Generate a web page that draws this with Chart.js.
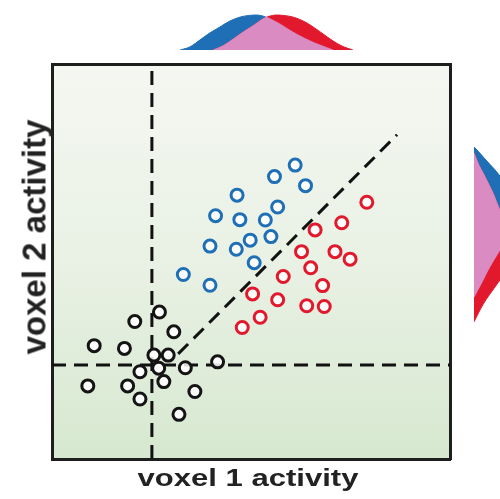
<!DOCTYPE html>
<html>
<head>
<meta charset="utf-8">
<script src="https://cdn.jsdelivr.net/npm/chart.js@4/dist/chart.umd.min.js"></script>
<style>
  html, body { margin: 0; padding: 0; background: #fff; }
  #wrap { position: relative; width: 500px; height: 499px; overflow: hidden; background: #fff; }
  canvas { position: absolute; }
  .title { position: absolute; font-family: "Liberation Sans", Arial, sans-serif; font-weight: bold; color: #222; white-space: nowrap; }
  #xTitle { left: 248px; top: 467px; font-size: 23px; line-height: 23px; transform: translateX(-50%) scaleX(1.35); }
  #yTitle { left: 33.5px; top: 237px; font-size: 33px; line-height: 33px; transform: translate(-50%, -50%) rotate(-90deg); }
</style>
</head>
<body>
<div id="wrap">
  <canvas id="main" width="500" height="499" style="left:0;top:0;width:500px;height:499px"></canvas>
  <canvas id="top" width="398" height="50" style="left:52px;top:0;width:398px;height:50px"></canvas>
  <canvas id="side" width="50" height="395" style="left:474px;top:64px;width:50px;height:395px"></canvas>
  <div class="title" id="xTitle">voxel 1 activity</div>
  <div class="title" id="yTitle">voxel 2 activity</div>
</div>
<script>
// scatter points (voxel 1 / voxel 2 activity, 0-100)
const blackX = [27.0, 20.8, 30.6, 10.6, 18.2, 25.6, 29.2, 22.1, 26.8, 33.5, 41.6, 9.0, 19.0, 28.1, 22.1, 35.9, 31.9];
const blackY = [37.2, 34.8, 32.2, 28.7, 28.0, 26.3, 26.3, 22.1, 23.0, 23.1, 24.6, 18.5, 18.5, 19.6, 15.2, 17.1, 11.3];
const blueX = [61.1, 55.9, 63.7, 46.5, 56.7, 41.1, 47.2, 53.6, 49.8, 55.0, 39.7, 46.3, 50.8, 33.0, 39.7];
const blueY = [74.4, 71.5, 69.2, 66.8, 63.8, 61.6, 60.6, 60.5, 55.4, 56.3, 53.9, 53.1, 49.7, 46.7, 44.0];
const redX = [79.1, 72.8, 66.1, 62.7, 71.1, 74.9, 65.0, 58.1, 68.0, 50.4, 56.7, 64.0, 68.4, 52.3, 47.8];
const redY = [65.0, 59.8, 58.0, 52.5, 52.5, 50.6, 48.4, 46.2, 43.9, 41.8, 40.3, 38.8, 38.6, 35.9, 33.3];

// dashed thresholds and decision boundary
const thresholdX = 25.1;
const thresholdY = 23.8;
const boundaryX = [31.7, 86.7];
const boundaryY = [26.6, 82.1];

// marginal distribution along voxel 1 (top)
const topBlueX = [32.2, 34.7, 37.2, 39.7, 42.2, 44.7, 47.2, 49.7, 52.3, 54.8, 57.3, 59.8, 62.3, 64.8, 67.3, 70.6];
const topBlueD = [0, 0.09, 0.29, 0.49, 0.66, 0.83, 0.94, 0.99, 0.99, 0.89, 0.74, 0.56, 0.40, 0.26, 0.14, 0];
const topRedX = [40.5, 43.0, 45.5, 48.0, 50.5, 53.0, 55.5, 58.0, 60.6, 63.1, 65.6, 68.1, 70.6, 73.1, 75.6];
const topRedD = [0, 0.12, 0.31, 0.51, 0.69, 0.89, 0.99, 0.99, 0.94, 0.83, 0.66, 0.46, 0.26, 0.10, 0];
const topPinkX = [40.5, 43.0, 45.5, 48.0, 50.5, 53.0, 54.0, 54.8, 57.3, 59.8, 62.3, 64.8, 67.3, 70.6];
const topPinkD = [0, 0.12, 0.31, 0.51, 0.69, 0.89, 0.93, 0.89, 0.74, 0.56, 0.40, 0.26, 0.14, 0];

// marginal distribution along voxel 2 (right)
const sideBlueY = [79.0, 77.7, 75.7, 73.2, 70.6, 68.1, 65.6, 63.0, 60.5, 58.0, 55.4, 52.9, 50.4, 47.8, 45.3, 42.8, 41.0];
const sideBlueD = [0, 0.14, 0.34, 0.60, 0.83, 1.03, 1.17, 1.23, 1.20, 1.06, 0.91, 0.74, 0.57, 0.40, 0.26, 0.11, 0];
const sideRedY = [77.5, 74.4, 71.9, 69.4, 66.8, 63.0, 60.5, 58.0, 55.4, 52.9, 50.4, 47.8, 45.3, 42.8, 40.3, 37.7, 34.7];
const sideRedD = [0, 0.14, 0.29, 0.43, 0.57, 0.74, 0.89, 1.03, 1.11, 1.14, 1.09, 0.94, 0.74, 0.54, 0.34, 0.17, 0];
const sidePinkY = [77.5, 74.4, 71.9, 69.4, 66.8, 63.0, 60.5, 57.7, 55.4, 52.9, 50.4, 47.8, 45.3, 42.8, 41.0];
const sidePinkD = [0, 0.14, 0.29, 0.43, 0.57, 0.74, 0.89, 1.04, 0.91, 0.74, 0.57, 0.40, 0.26, 0.11, 0];

const BLUE = '#1f6fb6';
const RED = '#e2182c';
const PINK = '#d98bc2';

let xy = (xs, ys) => xs.map((x, i) => ({ x: x, y: ys[i] }));

let bgPlugin = {
	id: 'bg',
	beforeDraw: (chart) => {
		let a = chart.chartArea;
		let ctx = chart.ctx;
		let g = ctx.createLinearGradient(0, a.top, 0, a.bottom);
		g.addColorStop(0, '#f5f7f2');
		g.addColorStop(0.5, '#e9f1e4');
		g.addColorStop(1, '#d6e8d0');
		ctx.save();
		ctx.fillStyle = g;
		ctx.fillRect(a.left, a.top, a.right - a.left, a.bottom - a.top);
		ctx.restore();
	}
};

let boxAxis = (pos) => ({
	type: 'linear',
	position: pos,
	min: 0,
	max: 100,
	ticks: { display: false },
	grid: { drawOnChartArea: false, drawTicks: false },
	border: { color: '#1e1e1e', width: 3 }
});

let circles = (xs, ys, color) => ({
	data: xy(xs, ys),
	pointRadius: 6,
	pointBorderWidth: 3,
	pointBorderColor: color,
	pointBackgroundColor: 'rgba(255,255,255,0.85)',
	showLine: false,
	order: 1
});

let dashed = (data) => ({
	data: data,
	showLine: true,
	borderColor: '#111',
	borderWidth: 3,
	borderDash: [14, 8],
	pointRadius: 0,
	order: 5
});

new Chart(document.getElementById('main'), {
	type: 'scatter',
	data: {
		datasets: [
			circles(blackX, blackY, '#141414'),
			circles(blueX, blueY, BLUE),
			circles(redX, redY, RED),
			dashed([{ x: thresholdX, y: 0 }, { x: thresholdX, y: 100 }]),
			dashed([{ x: 0, y: thresholdY }, { x: 100, y: thresholdY }]),
			dashed(xy(boundaryX, boundaryY))
		]
	},
	options: {
		responsive: false,
		animation: false,
		devicePixelRatio: 1,
		events: [],
		layout: { padding: { left: 52, top: 64, right: 50, bottom: 40 } },
		plugins: { legend: { display: false }, tooltip: { enabled: false } },
		scales: {
			x: boxAxis('bottom'),
			y: boxAxis('left'),
			x2: boxAxis('top'),
			y2: boxAxis('right')
		}
	},
	plugins: [bgPlugin]
});

let area = (data, color, order) => ({
	data: data,
	borderColor: color,
	borderWidth: 1,
	backgroundColor: color,
	fill: 'origin',
	tension: 0.35,
	pointRadius: 0,
	order: order
});

let hidden = (min, max) => ({ type: 'linear', display: false, min: min, max: max });

new Chart(document.getElementById('top'), {
	type: 'line',
	data: {
		datasets: [
			area(xy(topBlueX, topBlueD), BLUE, 3),
			area(xy(topRedX, topRedD), RED, 2),
			area(xy(topPinkX, topPinkD), PINK, 1)
		]
	},
	options: {
		responsive: false,
		animation: false,
		devicePixelRatio: 1,
		events: [],
		plugins: { legend: { display: false }, tooltip: { enabled: false } },
		scales: { x: hidden(0, 100), y: hidden(0, 1.43) }
	}
});

let yx = (ys, ds) => ys.map((y, i) => ({ x: ds[i], y: y }));

new Chart(document.getElementById('side'), {
	type: 'line',
	data: {
		datasets: [
			area(yx(sideBlueY, sideBlueD), BLUE, 3),
			area(yx(sideRedY, sideRedD), RED, 2),
			area(yx(sidePinkY, sidePinkD), PINK, 1)
		]
	},
	options: {
		indexAxis: 'y',
		responsive: false,
		animation: false,
		devicePixelRatio: 1,
		events: [],
		plugins: { legend: { display: false }, tooltip: { enabled: false } },
		scales: { x: hidden(0, 1.43), y: hidden(0, 100) }
	}
});
</script>
</body>
</html>
